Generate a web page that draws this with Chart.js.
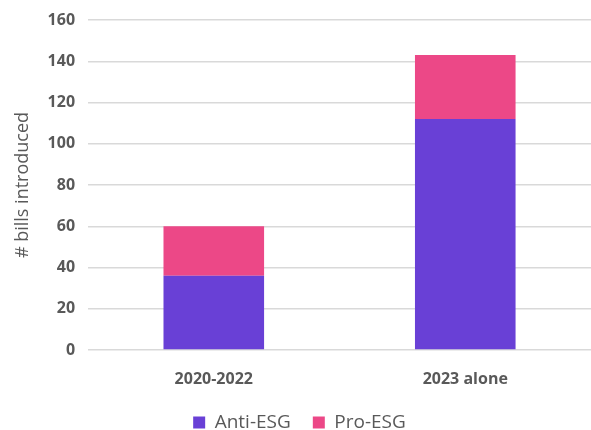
<!DOCTYPE html>
<html><head><meta charset="utf-8">
<script src="https://cdn.jsdelivr.net/npm/chart.js@4/dist/chart.umd.min.js"></script>
<style>html,body{margin:0;padding:0;background:#fff;}#wrap{width:591px;height:430px;}</style>
</head><body><div id="wrap"><canvas id="c" width="591" height="430"></canvas></div>
<script>
const categories = ["2020-2022", "2023 alone"];
const antiESG = [36, 112];
const proESG = [24, 31];
const yTicks = [0, 20, 40, 60, 80, 100, 120, 140, 160];

const FONT = "'Open Sans', 'Liberation Sans', sans-serif";
new Chart(document.getElementById('c'), {
  type: 'bar',
  data: {
    labels: categories,
    datasets: [
      {label: 'Anti-ESG', data: antiESG, backgroundColor: '#6940D6', barPercentage: 0.4, categoryPercentage: 1},
      {label: 'Pro-ESG', data: proESG, backgroundColor: '#EC4887', barPercentage: 0.4, categoryPercentage: 1}
    ]
  },
  options: {
    responsive: false,
    animation: false,
    layout: {padding: {top: 20, right: 0, left: 8, bottom: -12}},
    plugins: {
      legend: {
        position: 'bottom',
        labels: {font: {family: FONT, size: 19}, color: '#595959', boxWidth: 12, boxHeight: 12, padding: 22}
      },
      tooltip: {enabled: false}
    },
    scales: {
      x: {
        stacked: true,
        grid: {display: false},
        border: {display: false},
        ticks: {font: {family: FONT, size: 16, weight: 'bold'}, color: '#595959', padding: 12},
        afterFit: (s) => { s.height = 41; }
      },
      y: {
        stacked: true,
        min: 0, max: 160,
        afterBuildTicks: (ax) => { ax.ticks = yTicks.map(v => ({value: v})); },
        afterFit: (s) => { s.paddingTop = 0; },
        grid: {color: '#d9d9d9', lineWidth: 1.5, drawTicks: false},
        border: {display: false},
        ticks: {font: {family: FONT, size: 16, weight: 'bold'}, color: '#595959', padding: 13},
        title: {display: true, text: '# bills introduced', font: {family: FONT, size: 18}, color: '#595959', padding: {bottom: 1}}
      }
    }
  }
});
</script></body></html>
